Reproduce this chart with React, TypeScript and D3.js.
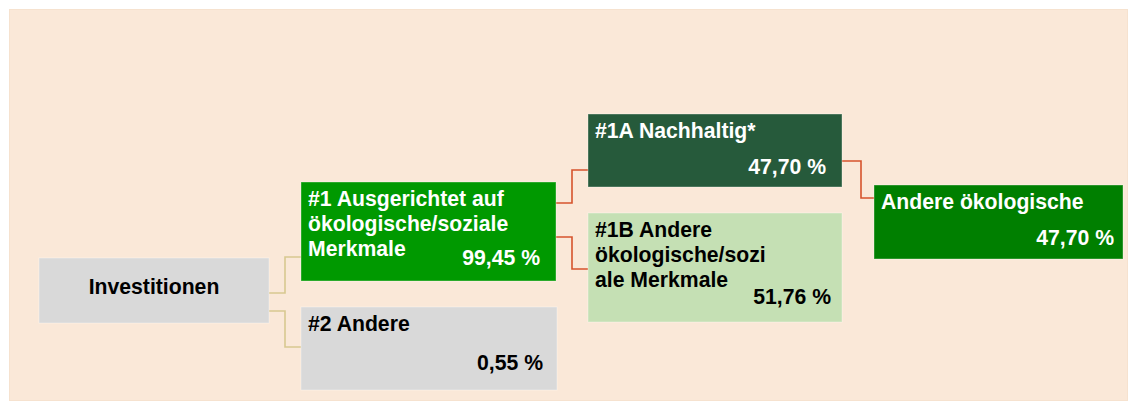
import React, { useEffect, useRef } from 'react';
import * as d3 from 'd3';

const width = 1133;
const height = 401;

// node texts and shares
const nodeLabels = [
  ['Investitionen'],
  ['#1 Ausgerichtet auf', 'ökologische/soziale', 'Merkmale'],
  ['#2 Andere'],
  ['#1A Nachhaltig*'],
  ['#1B Andere', 'ökologische/sozi', 'ale Merkmale'],
  ['Andere ökologische'],
];
const nodeShares = [null, 99.45, 0.55, 47.7, 51.76, 47.7];
const links = [[0, 1], [0, 2], [1, 3], [1, 4], [3, 5]];

// layout of the boxes: x, y, w, h, value baseline, value right
const boxLayout = [
  { x: 39, y: 258, w: 230, h: 65, vy: 0, vx: 0 },
  { x: 301, y: 182, w: 255, h: 99, vy: 265, vx: 540 },
  { x: 301, y: 307, w: 256, h: 83, vy: 370, vx: 543 },
  { x: 588, y: 114, w: 254, h: 73, vy: 174, vx: 826 },
  { x: 588, y: 213, w: 254, h: 109, vy: 304, vx: 831 },
  { x: 874, y: 185, w: 249, h: 74, vy: 245, vx: 1114 },
];
const boxFill = ['#d9d9d9', '#009900', '#d9d9d9', '#265a3b', '#c5e0b4', '#007f00'];
const textFill = ['#000', '#fff', '#000', '#fff', '#000', '#fff'];
// link anchors: source y, elbow x, target y
const linkLayout = [
  { sy: 293, mx: 285, ty: 257, color: '#d8c890' },
  { sy: 311, mx: 285, ty: 347, color: '#d8c890' },
  { sy: 203, mx: 572, ty: 170, color: '#d6532c' },
  { sy: 237, mx: 572, ty: 269, color: '#d6532c' },
  { sy: 161, mx: 861, ty: 198, color: '#d6532c' },
];

const de = d3.formatLocale({ decimal: ',', thousands: '.', grouping: [3], currency: ['', ' €'] });
const fmt = de.format('.2f');

function App() {
  const ref = useRef<SVGSVGElement>(null);

  useEffect(() => {
    const svg = d3.select(ref.current);
    svg.selectAll('*').remove();

    svg.append('rect')
      .attr('x', 9.5).attr('y', 9.5)
      .attr('width', 1118).attr('height', height - 10)
      .attr('fill', '#fae8d8')
      .attr('stroke', '#f6e2cf');

    const line = d3.line<[number, number]>();
    svg.append('g').selectAll('path')
      .data(links)
      .enter().append('path')
      .attr('fill', 'none')
      .attr('stroke', (_, i) => linkLayout[i].color)
      .attr('stroke-width', 1.6)
      .attr('d', (d, i) => {
        const s = boxLayout[d[0]];
        const t = boxLayout[d[1]];
        const l = linkLayout[i];
        return line([
          [s.x + s.w, l.sy],
          [l.mx, l.sy],
          [l.mx, l.ty],
          [t.x, l.ty],
        ]);
      });

    const nodes = svg.append('g').selectAll('g')
      .data(nodeLabels)
      .enter().append('g')
      .attr('font-family', 'Liberation Sans, Arial, sans-serif')
      .attr('font-weight', 'bold')
      .attr('font-size', 21.2);

    nodes.append('rect')
      .attr('x', (_, i) => boxLayout[i].x)
      .attr('y', (_, i) => boxLayout[i].y)
      .attr('width', (_, i) => boxLayout[i].w)
      .attr('height', (_, i) => boxLayout[i].h)
      .attr('fill', (_, i) => boxFill[i])
      .attr('stroke', 'rgba(255,255,255,0.35)')
      .attr('stroke-width', 1);

    nodes.each(function (d, i) {
      const g = d3.select(this);
      const b = boxLayout[i];
      if (i === 0) {
        g.append('text')
          .attr('x', b.x + b.w / 2)
          .attr('y', 294)
          .attr('text-anchor', 'middle')
          .attr('fill', textFill[i])
          .text(d[0]);
        return;
      }
      g.selectAll('text.label')
        .data(d)
        .enter().append('text')
        .attr('class', 'label')
        .attr('x', b.x + 7)
        .attr('y', (_, j) => b.y + 24 + j * 25)
        .attr('fill', textFill[i])
        .text((t) => t);
      g.append('text')
        .attr('x', b.vx)
        .attr('y', b.vy)
        .attr('text-anchor', 'end')
        .attr('fill', textFill[i])
        .text(fmt(nodeShares[i] as number) + ' %');
    });
  }, []);

  return (
    <svg ref={ref} width={width} height={height}
      style={{ position: 'absolute', left: 0, top: 0, background: '#fff' }} />
  );
}

export default App;
